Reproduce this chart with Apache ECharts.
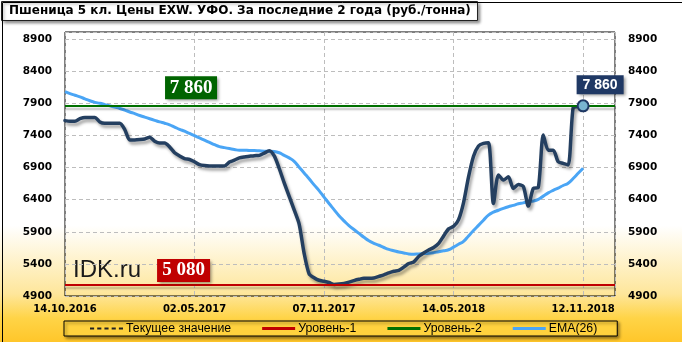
<!DOCTYPE html>
<html><head><meta charset="utf-8">
<script src="https://cdn.jsdelivr.net/npm/echarts@6/dist/echarts.min.js"></script>
<style>html,body{margin:0;padding:0;background:#fff}#c{width:682px;height:342px}</style>
</head><body><div id="c"></div>
<script>
// ---- data ----
const titleText = 'Пшеница 5 кл. Цены EXW. УФО. За последние 2 года (руб./тонна)';
const xTickLabels = ['14.10.2016', '02.05.2017', '07.11.2017', '14.05.2018', '12.11.2018'];
const pointsPerTick = 26;
const priceValues = [
  7630, 7620, 7620, 7660, 7680, 7680, 7680, 7610, 7590, 7590,
  7590, 7590, 7490, 7330, 7330, 7335, 7345, 7370, 7310, 7280,
  7280, 7220, 7130, 7080, 7040, 7025, 6990, 6945, 6930, 6925,
  6925, 6925, 6925, 6985, 7015, 7050, 7065, 7075, 7085, 7090,
  7125, 7160, 7080, 6885, 6660, 6450, 6240, 6020, 5565, 5245,
  5185, 5145, 5130, 5110, 5080, 5085, 5095, 5115, 5140, 5160,
  5175, 5175, 5180, 5205, 5230, 5260, 5285, 5300, 5350, 5405,
  5430, 5515, 5570, 5615, 5655, 5720, 5835, 5945, 5985, 6090,
  6355, 6755, 7075, 7235, 7275, 7285, 6340, 6785, 6705, 6755,
  6575, 6635, 6605, 6300, 6575, 6590, 7405, 7170, 7170, 6990,
  6965, 6940, 7830, 7850, 7860
];
const emaValues = [
  8080, 8050, 8025, 8000, 7970, 7940, 7915, 7900, 7880, 7860,
  7840, 7820, 7795, 7765, 7740, 7710, 7685, 7660, 7635, 7610,
  7590, 7565, 7530, 7495, 7465, 7430, 7395, 7360, 7325, 7290,
  7255, 7225, 7210, 7195, 7180, 7170, 7170, 7165, 7165, 7160,
  7155, 7155, 7150, 7130, 7090, 7050, 6995, 6905, 6815, 6725,
  6630, 6540, 6440, 6340, 6245, 6150, 6070, 5995, 5935, 5875,
  5815, 5760, 5720, 5690, 5655, 5625, 5605, 5585, 5570, 5555,
  5550, 5555, 5560, 5565, 5575, 5590, 5605, 5620, 5660, 5705,
  5750, 5835, 5920, 6000, 6080, 6160, 6205, 6235, 6265, 6290,
  6310, 6335, 6350, 6370, 6380, 6405, 6455, 6505, 6545, 6580,
  6620, 6655, 6730, 6810, 6890
];
const level1Value = 5080;   // Уровень-1
const level2Value = 7860;   // Уровень-2
const currentValue = 7860;  // Текущее значение
const yMin = 4900, yMax = 9010, yStep = 500;
const xMax = 110.4;
const level1LabelX = 23.8, level2LabelX = 25.3;

// ---- helpers ----
const fmt = v => String(v).replace(/\B(?=(\d{3})+(?!\d))/g, ' ');
const pricePairs = priceValues.map((v, i) => [i, v]);
const emaPairs = emaValues.map((v, i) => [i, v]);
const lastIdx = priceValues.length - 1;

const axisFont = { fontFamily: 'DejaVu Sans', fontWeight: 'bold', fontSize: 10.5, color: '#000' };
const dashSplit = { show: true, lineStyle: { color: '#bdbdbd', type: [4, 3], width: 1 } };
const dashIcon = 'path://M0,0h4v2h-4z M7,0h4v2h-4z M14,0h4v2h-4z M21,0h4v2h-4z M28,0h4v2h-4z';

const chart = echarts.init(document.getElementById('c'), null, { renderer: 'canvas' });
chart.setOption({
  animation: false,
  backgroundColor: {
    type: 'linear', x: 0, y: 0, x2: 0, y2: 1,
    colorStops: [
      { offset: 0, color: '#ffffff' },
      { offset: 0.66, color: '#ffffff' },
      { offset: 0.86, color: '#fee69a' },
      { offset: 0.93, color: '#ffd447' },
      { offset: 1, color: '#ffc62a' }
    ]
  },
  title: {
    text: titleText, left: 1, top: 1,
    padding: [4, 7, 4, 8],
    backgroundColor: '#fff', borderColor: '#222', borderWidth: 1,
    shadowColor: 'rgba(0,0,0,0.45)', shadowBlur: 3, shadowOffsetX: 2, shadowOffsetY: 2,
    textStyle: { fontFamily: 'DejaVu Sans', fontWeight: 'bold', fontSize: 12, color: '#000' }
  },
  legend: {
    left: 64, top: 321,
    padding: [1, 20, 1, 26],
    itemWidth: 33, itemHeight: 3, itemGap: 31,
    symbolKeepAspect: true,
    borderColor: '#000', borderWidth: 1,
    backgroundColor: '#ffd23e',
    shadowColor: 'rgba(0,0,0,0.45)', shadowBlur: 3, shadowOffsetX: 2, shadowOffsetY: 2,
    textStyle: { fontFamily: 'Liberation Sans', fontSize: 12.3, color: '#000', lineHeight: 13, padding: [0, 0, 0, -2] },
    data: [
      { name: 'Текущее значение', icon: dashIcon },
      { name: 'Уровень-1', icon: 'rect' },
      { name: 'Уровень-2', icon: 'rect' },
      { name: 'EMA(26)', icon: 'rect' }
    ]
  },
  grid: {
    left: 65, right: 67, top: 32, bottom: 46,
    show: true, borderColor: '#000', borderWidth: 1, backgroundColor: 'transparent'
  },
  xAxis: {
    type: 'value', min: 0, max: xMax, interval: pointsPerTick,
    axisLine: { show: false }, axisTick: { show: false },
    axisLabel: Object.assign({
      margin: 8, showMaxLabel: false,
      formatter: v => (v % pointsPerTick === 0 ? (xTickLabels[v / pointsPerTick] || '') : '')
    }, axisFont, { fontSize: 10 }),
    splitLine: dashSplit
  },
  yAxis: [
    {
      type: 'value', min: yMin, max: yMax, interval: yStep, position: 'left',
      axisLine: { show: false }, axisTick: { show: false },
      axisLabel: Object.assign({ margin: 13, showMaxLabel: false, formatter: v => String(v) }, axisFont),
      splitLine: dashSplit
    },
    {
      type: 'value', min: yMin, max: yMax, interval: yStep, position: 'right',
      axisLine: { show: false }, axisTick: { show: false },
      axisLabel: Object.assign({ margin: 13, showMaxLabel: false, formatter: v => String(v) }, axisFont),
      splitLine: { show: false }
    }
  ],
  series: [
    {
      name: 'Текущее значение', type: 'line', data: [], symbol: 'none',
      color: '#222',
      lineStyle: { color: '#222', width: 1.5, type: [4, 3] },
      markLine: {
        silent: true, symbol: 'none', label: { show: false },
        lineStyle: { color: '#222', width: 1, type: [4, 3] },
        data: [{ yAxis: currentValue }]
      }
    },
    {
      name: 'Уровень-1', type: 'line', data: [], symbol: 'none',
      color: '#c00000', lineStyle: { color: '#c00000', width: 3 },
      markLine: {
        silent: true, symbol: 'none', label: { show: false },
        lineStyle: { color: '#c00000', width: 2, type: 'solid',
          shadowColor: 'rgba(0,0,0,0.25)', shadowBlur: 2, shadowOffsetY: 3 },
        data: [{ yAxis: level1Value }]
      },
      markPoint: {
        silent: true, symbol: 'rect', symbolSize: [53, 23], symbolOffset: [0, -14],
        itemStyle: { color: '#c00000', shadowColor: 'rgba(0,0,0,0.4)', shadowBlur: 3, shadowOffsetX: 2, shadowOffsetY: 2 },
        label: { show: true, position: 'inside', formatter: () => fmt(level1Value),
          fontFamily: 'Liberation Serif', fontWeight: 'bold', fontSize: 19, color: '#fff' },
        data: [{ coord: [level1LabelX, level1Value] }]
      }
    },
    {
      name: 'Уровень-2', type: 'line', data: [], symbol: 'none',
      color: '#007000', lineStyle: { color: '#007000', width: 3 },
      markLine: {
        silent: true, symbol: 'none', label: { show: false },
        lineStyle: { color: '#007000', width: 2, type: 'solid',
          shadowColor: 'rgba(0,0,0,0.25)', shadowBlur: 2, shadowOffsetY: 3 },
        data: [{ yAxis: level2Value }]
      },
      markPoint: {
        silent: true, symbol: 'rect', symbolSize: [52, 23], symbolOffset: [0, -18],
        itemStyle: { color: '#006400', shadowColor: 'rgba(0,0,0,0.4)', shadowBlur: 3, shadowOffsetX: 2, shadowOffsetY: 2 },
        label: { show: true, position: 'inside', formatter: () => fmt(level2Value),
          fontFamily: 'Liberation Serif', fontWeight: 'bold', fontSize: 19, color: '#fff' },
        data: [{ coord: [level2LabelX, level2Value] }]
      }
    },
    {
      name: 'EMA(26)', type: 'line', data: emaPairs, symbol: 'none', smooth: true,
      color: '#4aa5f5',
      lineStyle: { color: '#4aa5f5', width: 3 }
    },
    {
      name: 'Цена', type: 'line', data: pricePairs, symbol: 'none', smooth: 0.25,
      color: '#243f60',
      lineStyle: { color: '#243f60', width: 3.5, cap: 'round', join: 'round',
        shadowColor: 'rgba(0,0,0,0.35)', shadowBlur: 3, shadowOffsetX: 2, shadowOffsetY: 3 },
      markPoint: {
        silent: true, symbol: 'circle', symbolSize: 11,
        itemStyle: { color: '#78b4d0', borderColor: '#1f3864', borderWidth: 2 },
        label: { show: true, position: [0, -24], formatter: () => fmt(priceValues[lastIdx]),
          backgroundColor: '#1f3864', padding: [3, 6, 2, 6], lineHeight: 14,
          fontFamily: 'Liberation Sans', fontWeight: 'bold', fontSize: 14, color: '#fff',
          shadowColor: 'rgba(0,0,0,0.4)', shadowBlur: 3, shadowOffsetX: 2, shadowOffsetY: 2 },
        data: [{ coord: [lastIdx, priceValues[lastIdx]] }]
      }
    }
  ],
  graphic: [
    {
      type: 'text', left: 73, top: 258, silent: true,
      style: { text: 'IDK.ru', fontFamily: 'Liberation Sans', fontSize: 24, fill: '#1a1a1a' }
    },
    {
      type: 'rect', left: 0, top: 0, silent: true, z: 100,
      shape: { x: 0, y: 0, width: 681, height: 341 },
      style: { fill: null, stroke: '#000', lineWidth: 1 }
    }
  ]
});
</script></body></html>
